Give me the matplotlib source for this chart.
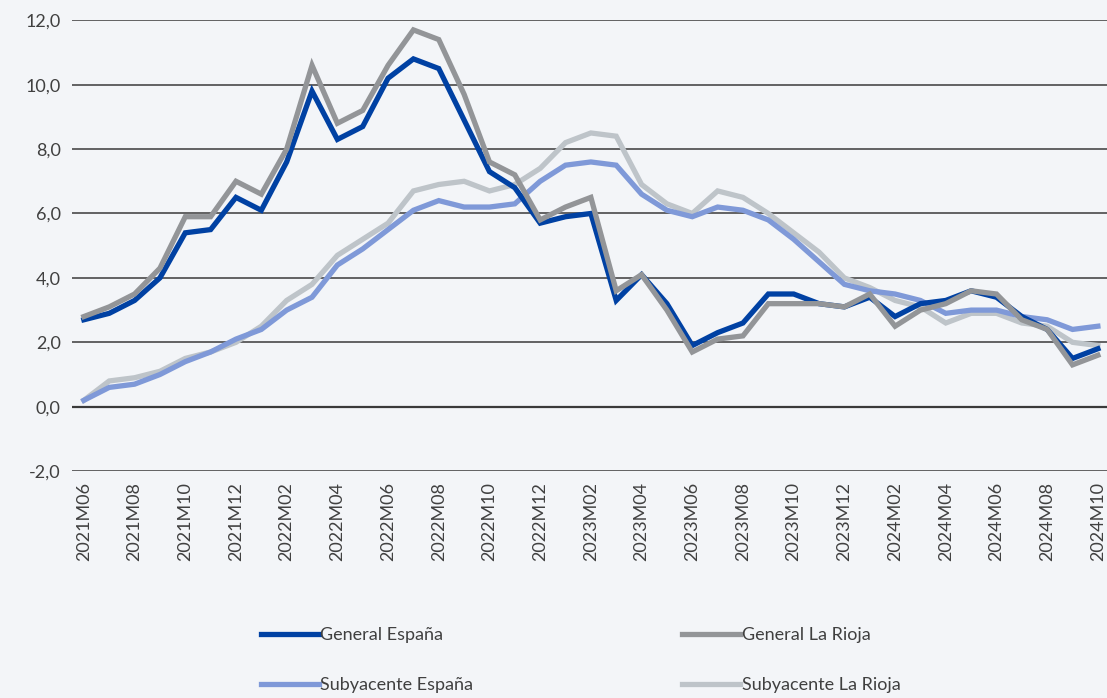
import matplotlib
matplotlib.use("Agg")
import matplotlib.pyplot as plt
import numpy as np

months = []
for y in range(2021, 2025):
    for m in range(1, 13):
        if (y == 2021 and m < 6) or (y == 2024 and m > 10):
            continue
        months.append(f"{y}M{m:02d}")

general_espana = [2.7, 2.9, 3.3, 4.0, 5.4, 5.5, 6.5, 6.1, 7.6, 9.8, 8.3, 8.7, 10.2, 10.8, 10.5, 8.9,
                  7.3, 6.8, 5.7, 5.9, 6.0, 3.3, 4.1, 3.2, 1.9, 2.3, 2.6, 3.5, 3.5, 3.2, 3.1, 3.4,
                  2.8, 3.2, 3.3, 3.6, 3.4, 2.8, 2.4, 1.5, 1.8]
general_rioja = [2.8, 3.1, 3.5, 4.3, 5.9, 5.9, 7.0, 6.6, 8.0, 10.6, 8.8, 9.2, 10.6, 11.7, 11.4, 9.7,
                 7.6, 7.2, 5.8, 6.2, 6.5, 3.6, 4.1, 3.0, 1.7, 2.1, 2.2, 3.2, 3.2, 3.2, 3.1, 3.5,
                 2.5, 3.0, 3.2, 3.6, 3.5, 2.7, 2.4, 1.3, 1.6]
subyacente_espana = [0.2, 0.6, 0.7, 1.0, 1.4, 1.7, 2.1, 2.4, 3.0, 3.4, 4.4, 4.9, 5.5, 6.1, 6.4, 6.2,
                     6.2, 6.3, 7.0, 7.5, 7.6, 7.5, 6.6, 6.1, 5.9, 6.2, 6.1, 5.8, 5.2, 4.5, 3.8, 3.6,
                     3.5, 3.3, 2.9, 3.0, 3.0, 2.8, 2.7, 2.4, 2.5]
subyacente_rioja = [0.2, 0.8, 0.9, 1.1, 1.5, 1.7, 2.0, 2.5, 3.3, 3.8, 4.7, 5.2, 5.7, 6.7, 6.9, 7.0,
                    6.7, 6.9, 7.4, 8.2, 8.5, 8.4, 6.9, 6.3, 6.0, 6.7, 6.5, 6.0, 5.4, 4.8, 4.0, 3.7,
                    3.3, 3.1, 2.6, 2.9, 2.9, 2.6, 2.5, 2.0, 1.9]

series = [
    ("General España", general_espana, "#0041a3"),
    ("General La Rioja", general_rioja, "#939598"),
    ("Subyacente España", subyacente_espana, "#7f99d8"),
    ("Subyacente La Rioja", subyacente_rioja, "#bec4c9"),
]
draw_order = [3, 2, 0, 1]

bg = "#f3f5f8"
plt.rcParams['font.family'] = ['Lato', 'DejaVu Sans']

fig = plt.figure(figsize=(11.07, 6.98), dpi=100, facecolor=bg)
ax = fig.add_axes([0.065, 0.325, 0.935, 0.646])
ax.set_facecolor(bg)

x = np.arange(len(months))
lines = {}
for i in draw_order:
    name, vals, col = series[i]
    ln, = ax.plot(x, vals, color=col, lw=3.8, solid_joinstyle='miter', label=name, zorder=3)
    lines[i] = ln

ax.set_ylim(-2, 12)
ax.set_xlim(-0.47, 40.36)
yt = np.arange(-2, 13, 2)
ax.set_yticks(yt)
ax.set_yticklabels([f"{v:.1f}".replace(".", ",") for v in yt], fontsize=13, color="#404040")
for v in yt:
    ax.axhline(v, color="#3a3a3a", lw=1.6 if v == 0 else 1.1, zorder=1)
ax.set_xticks(x[::2])
ax.set_xticklabels(months[::2], rotation=90, fontsize=13, color="#404040")
ax.tick_params(length=0, pad=8)
for s in ax.spines.values():
    s.set_visible(False)

handles = [lines[0], lines[1], lines[2], lines[3]]
labels = [series[i][0] for i in range(4)]
order = [0, 2, 1, 3]
leg = fig.legend([handles[i] for i in order], [labels[i] for i in order], ncol=2, loc='center left',
                 bbox_to_anchor=(0.221, 0.054), frameon=False, fontsize=13, handlelength=3.2,
                 handletextpad=0.1, columnspacing=11.55, labelspacing=1.9, labelcolor="#404040")

fig.savefig("out.png", dpi=100, facecolor=bg)
